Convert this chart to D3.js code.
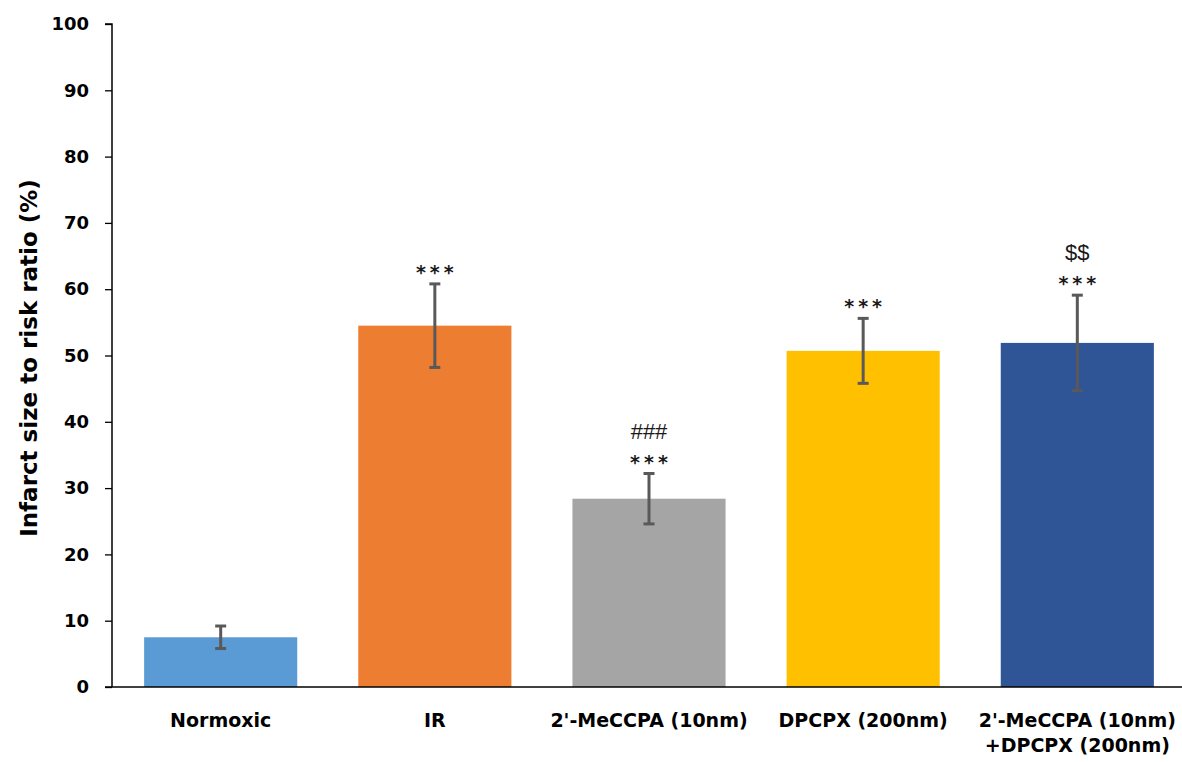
<!DOCTYPE html>
<html><head><meta charset="utf-8">
<script src="https://cdn.jsdelivr.net/npm/d3@7"></script>
<style>body{margin:0;background:#fff}</style>
</head><body>
<svg id="c" width="1182" height="762"></svg>
<script>
const categories = ["Normoxic", "IR", "2'-MeCCPA (10nm)", "DPCPX (200nm)", "2'-MeCCPA (10nm)\n+DPCPX (200nm)"];
const means = [7.5, 54.5, 28.4, 50.7, 51.9];
const errors = [1.7, 6.3, 3.8, 4.9, 7.2];
const colors = ["#5B9BD5", "#ED7D31", "#A5A5A5", "#FFC000", "#2F5597"];
const annotations = [[], ["***"], ["###", "***"], ["***"], ["$$", "***"]];
const yTicks = [0,10,20,30,40,50,60,70,80,90,100];

const BOLD = "'DejaVu Sans', Verdana, sans-serif";
const ANN = "'Liberation Sans', Arial, sans-serif";
const STAR = "'DejaVu Sans', sans-serif";
const svg = d3.select("#c");
const x0 = 112, x1 = 1186, yTop = 24, yBot = 687;
const x = d3.scaleBand().domain(categories).range([x0, x1]).paddingInner(0.285).paddingOuter(0.15);
const y = d3.scaleLinear().domain([0, 100]).range([yBot, yTop]);

// bars
svg.selectAll("rect.bar").data(categories).join("rect")
  .attr("x", d => x(d)).attr("width", x.bandwidth())
  .attr("y", (d,i) => y(means[i])).attr("height", (d,i) => y(0) - y(means[i]))
  .attr("fill", (d,i) => colors[i]);

// y axis
const ya = svg.append("g").attr("transform", `translate(${x0},0)`)
  .call(d3.axisLeft(y).tickValues(yTicks).tickSize(7).tickPadding(16));
ya.select(".domain").attr("stroke", "#000").attr("stroke-width", 1.5).attr("d", `M-7,${yTop}H0V${yBot}`);
ya.selectAll(".tick line").attr("stroke", "#000").attr("stroke-width", 1.3);
ya.selectAll(".tick text").attr("font-family", BOLD).attr("font-weight", "bold")
  .attr("font-size", 18).attr("fill", "#000");

// x axis
const xa = svg.append("g").attr("transform", `translate(0,${yBot})`)
  .call(d3.axisBottom(x).tickSize(0).tickPadding(0));
xa.select(".domain").attr("stroke", "#000").attr("stroke-width", 1.5).attr("d", `M${x0-7},0H1182`);
xa.selectAll(".tick text").remove();
xa.selectAll(".tick").each(function(d) {
  const lines = d.split("\n");
  const t = d3.select(this).append("text").attr("fill", "#000")
    .attr("font-family", BOLD).attr("font-weight", "bold")
    .attr("font-size", 19).attr("text-anchor", "middle");
  lines.forEach((l, k) => t.append("tspan").attr("x", 0).attr("y", 40 + k*25).text(l));
});

// error bars
const eb = svg.append("g").attr("stroke", "#595959").attr("stroke-width", 3);
categories.forEach((c, i) => {
  const cx = x(c) + x.bandwidth()/2;
  const top = y(means[i]+errors[i]);
  eb.append("line").attr("x1", cx).attr("x2", cx).attr("y1", top).attr("y2", y(means[i]-errors[i]));
  [means[i]+errors[i], means[i]-errors[i]].forEach(v =>
    eb.append("line").attr("x1", cx-5.5).attr("x2", cx+5.5).attr("y1", y(v)).attr("y2", y(v)));
  // annotations (bottom line is "***")
  const ann = annotations[i];
  ann.slice().reverse().forEach((a, k) => {
    const centerY = top - 16 - k*26.5;
    const isStar = a === "***";
    const ls = isStar ? 4 : 0;
    svg.append("text").attr("x", cx + ls/2)
      .attr("y", centerY + (isStar ? 11 : 7.7))
      .attr("text-anchor", "middle").attr("font-family", isStar ? STAR : ANN)
      .attr("font-weight", isStar ? "bold" : "normal")
      .attr("letter-spacing", ls)
      .attr("font-size", isStar ? 19 : 22).attr("fill", "#1a1a1a").text(a);
  });
});

// y label
svg.append("text").attr("transform", `translate(37,358) rotate(-90)`)
  .attr("text-anchor", "middle").attr("font-family", BOLD)
  .attr("font-weight", "bold").attr("font-size", 23).attr("fill", "#000")
  .text("Infarct size to risk ratio (%)");
</script>
</body></html>
